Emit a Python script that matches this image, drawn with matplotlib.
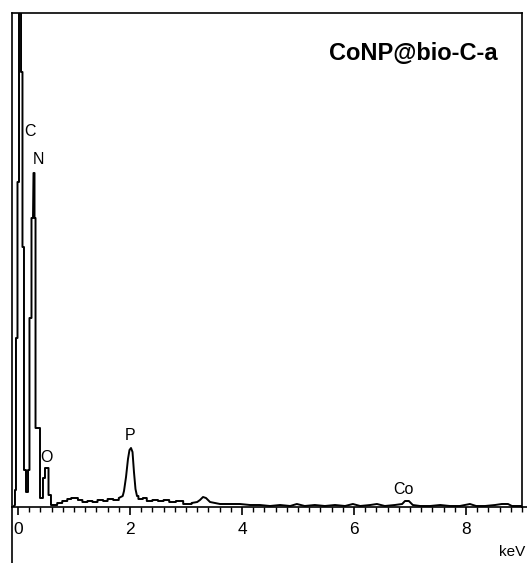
import numpy as np
import matplotlib
matplotlib.use('Agg')
import matplotlib.pyplot as plt
from matplotlib.lines import Line2D

plt.rcParams['font.family'] = ['Liberation Sans', 'DejaVu Sans']

# spectrum (energy in keV, counts in arbitrary units)
energy = [-0.089, -0.054, -0.054, -0.036, -0.036, -0.009, -0.009, 0.018, 0.018, 0.036,
          0.054, 0.054, 0.080, 0.080, 0.107, 0.107, 0.143, 0.143, 0.161, 0.179,
          0.179, 0.205, 0.205, 0.241, 0.241, 0.268, 0.277, 0.295, 0.295, 0.313,
          0.313, 0.393, 0.393, 0.411, 0.446, 0.446, 0.482, 0.482, 0.518, 0.545,
          0.545, 0.589, 0.589, 0.661, 0.700, 0.700, 0.790, 0.790, 0.880, 0.880,
          0.950, 0.950, 1.070, 1.070, 1.150, 1.150, 1.240, 1.240, 1.330, 1.330,
          1.420, 1.420, 1.520, 1.520, 1.600, 1.600, 1.700, 1.700, 1.800, 1.800,
          1.870, 1.893, 1.929, 1.964, 1.991, 2.018, 2.045, 2.071, 2.098, 2.125,
          2.150, 2.150, 2.230, 2.230, 2.300, 2.300, 2.400, 2.400, 2.500, 2.500,
          2.600, 2.600, 2.700, 2.700, 2.820, 2.820, 2.950, 2.950, 3.100, 3.100,
          3.200, 3.250, 3.304, 3.357, 3.429, 3.518, 3.607, 3.786, 3.964, 4.143,
          4.320, 4.500, 4.680, 4.860, 4.980, 5.120, 5.300, 5.480, 5.660, 5.840,
          5.980, 6.110, 6.290, 6.410, 6.550, 6.730, 6.860, 6.910, 6.980, 7.050,
          7.180, 7.360, 7.540, 7.710, 7.890, 8.070, 8.180, 8.340, 8.520, 8.640,
          8.750, 8.820, 9.000]
counts = [0, 2, 17, 17, 169, 169, 325, 325, 560, 600,
          560, 435, 435, 260, 260, 37, 37, 15, 15, 15,
          37, 37, 189, 189, 289, 289, 334, 334, 289, 289,
          79, 79, 9, 9, 9, 29, 29, 39, 39, 39,
          12, 12, 2, 2, 2, 4, 4, 6, 6, 8,
          8, 9, 9, 7, 7, 5, 5, 6, 6, 5,
          5, 7, 7, 6, 6, 8, 8, 7, 7, 9,
          11, 16, 30, 48, 57, 59, 55, 35, 18, 11,
          11, 8, 8, 9, 9, 6, 6, 7, 7, 6,
          6, 7, 7, 5, 5, 6, 6, 3, 3, 4,
          5, 7, 10, 9, 5, 4, 3, 3, 3, 2,
          2, 1, 2, 1, 3, 1, 2, 1, 2, 1,
          3, 1, 2, 3, 1, 2, 3, 6, 6, 2,
          1, 1, 2, 1, 1, 3, 1, 1, 2, 3,
          3, 1, 1]

peak_names = ['C', 'N', 'O', 'P', 'Co']
peak_x = [0.214, 0.357, 0.50, 2.0, 6.89]
peak_y = [375, 347, 50, 72, 18]

major_ticks = [0, 2, 4, 6, 8]

fig = plt.figure(figsize=(5.27, 5.63), dpi=100)
ax = fig.add_axes([12 / 527, 1 - 507 / 563, 510 / 527, 494 / 563])

ax.plot(energy, counts, color='black', lw=1.4)

for name, x, y in zip(peak_names, peak_x, peak_y):
    ax.text(x, y, name, ha='center', va='center', fontsize=11.5)

ax.text(0.952, 0.919, 'CoNP@bio-C-a', transform=ax.transAxes, ha='right',
        va='center', fontsize=17, fontweight='bold')

ax.set_xlim(-0.107, 9.0)
ax.set_ylim(0, 494)

ax.set_xticks(major_ticks)
ax.set_xticks(np.arange(0, 9.01, 0.2), minor=True)
ax.tick_params(axis='x', which='major', direction='out', length=6, width=1.2,
               labelsize=12.5, pad=5)
ax.tick_params(axis='x', which='minor', direction='out', length=3.5, width=1.0)
ax.set_yticks([])

for side in ['left', 'right', 'top', 'bottom']:
    ax.spines[side].set_linewidth(1.2)

# left frame continues down to the bottom of the picture, axis runs out to the edge
fig.add_artist(Line2D([12 / 527, 12 / 527], [0, 1 - 507 / 563],
                      color='black', lw=1.2, transform=fig.transFigure))
fig.add_artist(Line2D([522 / 527, 1], [1 - 507 / 563, 1 - 507 / 563],
                      color='black', lw=1.2, transform=fig.transFigure))

fig.text(1 - 2 / 527, 1 - 552 / 563, 'keV', ha='right', va='center', fontsize=11)

plt.savefig('out.png', dpi=100)
plt.close()
